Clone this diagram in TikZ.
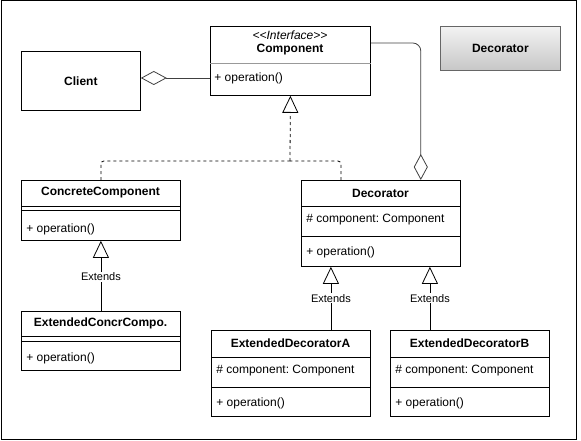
\documentclass[tikz,border=0pt]{standalone}
\usepackage{fontspec}
\setmainfont{Liberation Sans}
\usepackage{tikz}
\usetikzlibrary{arrows.meta}
\usetikzlibrary{positioning}
\frenchspacing
\tikzstyle{cls}=[draw,rectangle,fill=white,anchor=north west,inner sep=0pt]
\tikzstyle{ttl}=[font=\fontsize{12}{14}\selectfont\bfseries,inner sep=0pt]
\tikzstyle{mem}=[font=\fontsize{12}{14}\selectfont,anchor=west,inner sep=0pt]
\tikzstyle{lbl}=[font=\fontsize{11}{13}\selectfont,fill=white,inner sep=1pt]
\tikzstyle{inh}=[-{Triangle[open,width=16pt,length=17pt]}]
\tikzstyle{agg}=[draw=black!75,{Diamond[open,width=14pt,length=26pt]}-]
\tikzstyle{real}=[dash pattern=on 3pt off 3pt,rounded corners=3pt]

\begin{document}
\begin{tikzpicture}[x=1pt,y=-1pt,line width=0.8pt]
  \useasboundingbox (0,0) rectangle (581,441);
  \draw[line width=1pt] (1,1) rectangle (576,439);

  % boxes
  \node[cls,minimum width=119pt,minimum height=59pt] (client) at (21,51) {};
  \node[cls,minimum width=160pt,minimum height=69pt] (cmp) at (210,26) {};
  \node[cls,draw=black!60,top color=black!5,bottom color=black!22,minimum width=120pt,minimum height=44pt] (deco) at (440,26) {};
  \node[cls,minimum width=159pt,minimum height=86pt] (dec) at (301,180) {};
  \node[cls,minimum width=159pt,minimum height=60pt] (cc) at (21,180) {};
  \node[cls,minimum width=159pt,minimum height=59pt] (ecc) at (21,311) {};
  \node[cls,minimum width=159pt,minimum height=86pt] (eda) at (211,330) {};
  \node[cls,minimum width=159pt,minimum height=86pt] (edb) at (390,330) {};

  % dividers
  \draw[black!40] ([yshift=-37pt]cmp.north west) -- ([yshift=-37pt]cmp.north east);
  \draw ([yshift=-26pt]dec.north west) -- ([yshift=-26pt]dec.north east);
  \draw ([yshift=-56pt]dec.north west) -- ([yshift=-56pt]dec.north east);
  \draw ([yshift=-26pt]cc.north west) -- ([yshift=-26pt]cc.north east);
  \draw ([yshift=-30pt]cc.north west) -- ([yshift=-30pt]cc.north east);
  \draw ([yshift=-25pt]ecc.north west) -- ([yshift=-25pt]ecc.north east);
  \draw ([yshift=-30pt]ecc.north west) -- ([yshift=-30pt]ecc.north east);
  \foreach \b in {eda,edb} {
    \draw ([yshift=-27pt]\b.north west) -- ([yshift=-27pt]\b.north east);
    \draw ([yshift=-57pt]\b.north west) -- ([yshift=-57pt]\b.north east);
  }

  % texts
  \node[ttl] (clientt) at (client.center) {Client};
  \node[inner sep=0pt,font=\fontsize{12}{14}\selectfont\itshape] (cmpst) at (290,35) {<{}<Interface>{}>};
  \node[ttl] (cmpt) at (290,50) {Component};
  \node[mem] (cmpop) at (214,78) {+ operation()};
  \node[ttl] (decot) at (deco.center) {Decorator};
  \node[ttl] (dect) at (380.5,193) {Decorator};
  \node[mem] (decat) at (306,220) {\# component: Component};
  \node[mem] (decop) at (306,252) {+ operation()};
  \node[ttl] (cct) at (100.5,193) {ConcreteComponent};
  \node[mem] (ccop) at (26,229) {+ operation()};
  \node[ttl] (ecct) at (100.5,323) {ExtendedConcrCompo.};
  \node[mem] (eccop) at (26,358) {+ operation()};
  \node[ttl] (edat) at (290.5,343) {ExtendedDecoratorA};
  \node[mem] (edaat) at (216,371) {\# component: Component};
  \node[mem] (edaop) at (216,403) {+ operation()};
  \node[ttl] (edbt) at (469.5,343) {ExtendedDecoratorB};
  \node[mem] (edbat) at (395,371) {\# component: Component};
  \node[mem] (edbop) at (395,403) {+ operation()};

  % connectors
  \draw[agg] (client.east |- cmpop.west) -- (cmp.west |- cmpop.west);
  \draw[agg,rounded corners=8pt] ([xshift=-40pt]dec.north east) |- (cmp.east |- 0,43);
  \coordinate (join) at (290,161);
  \draw[real] (cc.north) |- (join);
  \draw[real] ([xshift=-40pt]dec.north) |- (join);
  \draw[inh,dash pattern=on 3pt off 3pt] (join) -- (cmp.south);
  \draw[inh] (ecc.north) -- (cc.south) node[lbl,pos=0.49] {Extends};
  \draw[inh] ([xshift=40pt]eda.north) -- ([xshift=40pt]eda.north |- dec.south) node[lbl,pos=0.5] {Extends};
  \draw[inh] ([xshift=-40pt]edb.north) -- ([xshift=-40pt]edb.north |- dec.south) node[lbl,pos=0.5] {Extends};
\end{tikzpicture}
\end{document}
